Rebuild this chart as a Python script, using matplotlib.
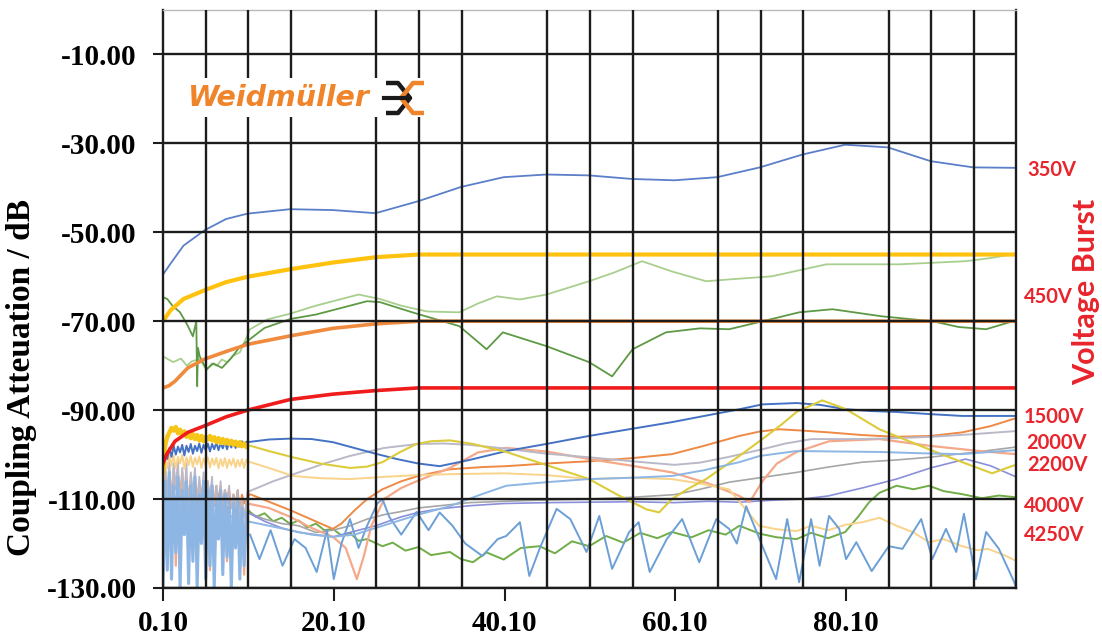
import numpy as np
import matplotlib
matplotlib.use("Agg")
import matplotlib.pyplot as plt
from matplotlib.patches import Rectangle

# ---- axis setup values ----
y_ticks = [-130, -110, -90, -70, -50, -30, -10]
x_ticks = [0.1, 20.1, 40.1, 60.1, 80.1]
x_ticklabels = ["0.10", "20.10", "40.10", "60.10", "80.10"]
x_grid = [0.1, 5.1, 10.1, 15.1, 20.1, 25.1, 30.1, 35.1, 40.1, 45.1, 50.1,
          55.1, 60.1, 65.1, 70.1, 75.1, 80.1, 85.1, 90.1, 95.1]

voltage_labels = ["350V", "450V", "1500V", "2000V", "2200V", "4000V", "4250V"]

# ---- upper (smooth) curves ----
blue350_x = [0.1, 1, 2.5, 5, 7.5, 10, 15, 20, 25, 30, 35, 40, 45, 50, 55, 60, 65, 70, 75, 80, 85, 90, 95, 100]
blue350_y = [-59.5, -57, -53, -49.5, -47, -45.8, -44.8, -45, -45.7, -43, -39.8, -37.6, -37, -37.2, -38,
             -38.3, -37.6, -35.4, -32.5, -30.3, -30.9, -34, -35.4, -35.5]

gold_x = [0.1, 1, 2.5, 5, 7.5, 10, 15, 20, 25, 30, 100]
gold_y = [-70, -67.5, -65, -63, -61.2, -60, -58.3, -56.8, -55.6, -55, -55]

orange_x = [0.1, 0.8, 1.5, 3, 5, 7.5, 10, 15, 20, 25, 30, 100]
orange_y = [-85, -84.5, -83.5, -80.5, -78.5, -76.8, -75.2, -73.3, -71.6, -70.6, -70, -70]

red_x = [0.1, 0.5, 1.5, 3, 5, 7.5, 10, 15, 20, 25, 30, 100]
red_y = [-102, -100, -97, -95, -93.5, -91.5, -90, -87.6, -86.4, -85.6, -85, -85]

lgreen_x = [0.1, 1.3, 2.2, 2.9, 3.5, 4.4, 5.2, 5.8, 6.4, 7.0, 7.6, 8.3, 9.1, 10.3, 12.3, 15, 18, 21, 23,
            25.5, 28, 31, 34.8, 37, 39.2, 41.9, 45, 50, 53, 56.2, 59.7, 63.7, 66.4, 71.4, 77.8, 86.3, 94.1, 97, 100]
lgreen_y = [-77.9, -79.2, -78.4, -80, -79, -78.5, -81, -79.5, -80, -78.6, -79.2, -77.8, -77, -71.8, -69.6,
            -68.3, -66.5, -65, -64, -65, -66.5, -67.8, -68, -66, -64.4, -65.1, -64, -61, -59, -56.5, -58.8,
            -61, -60.6, -59.9, -57.2, -57.2, -56.5, -55.8, -54.8]

dgreen_x = [0.1, 0.6, 1.2, 2.1, 3.0, 3.6, 4.0, 4.1, 4.2, 4.4, 5.2, 6, 7, 8, 9, 10.3, 12, 15, 18, 21, 24,
            25.5, 29.3, 34.8, 38, 39.9, 45, 50, 52.7, 55.1, 59, 63, 66.4, 69.9, 74.6, 78.5, 84.3, 90.2,
            93.3, 96.5, 100]
dgreen_y = [-64.6, -65, -66.5, -68, -71, -73.4, -70, -84.6, -76, -77.9, -80.8, -79.5, -80.5, -78.5, -76,
            -74, -71.5, -69.5, -68.5, -67, -65.5, -65.7, -68, -71.1, -76.3, -72.5, -75.6, -79.2, -82.4,
            -76.3, -72.5, -71.6, -71.8, -70.2, -68, -67.3, -68.9, -70, -71.3, -71.8, -69.8]

# ---- noisy start section (0.1 .. 10) shared x ----
noise_x = [0.1, 0.35, 0.6, 0.85, 1.1, 1.35, 1.6, 1.85, 2.1, 2.35, 2.6, 2.85, 3.1, 3.35, 3.6, 3.85,
           4.1, 4.35, 4.6, 4.85, 5.1, 5.35, 5.6, 5.85, 6.1, 6.35, 6.6, 6.85, 7.1, 7.35, 7.6, 7.85,
           8.1, 8.35, 8.6, 8.85, 9.1, 9.35, 9.6, 9.85]

lblue_noise = [-130, -106, -126, -104, -128, -107, -122, -105, -130, -108, -118, -106, -129, -107, -124,
               -105, -130, -109, -120, -106, -128, -108, -125, -107, -130, -110, -119, -108, -127, -109,
               -123, -110, -130, -111, -121, -110, -128, -112, -125, -113]
grayu_noise = [-118, -101, -112, -100, -122, -102, -108, -101, -120, -103, -110, -102, -124, -104, -109,
               -103, -119, -105, -112, -104, -125, -106, -110, -105, -121, -107, -113, -106, -118, -108,
               -111, -107, -126, -109, -112, -108, -120, -110, -114, -111]
salmon_noise = [-112, -104, -120, -105, -110, -103, -125, -106, -109, -104, -118, -106, -111, -105, -123,
                -107, -110, -106, -119, -107, -112, -106, -126, -108, -111, -107, -117, -108, -113, -108,
                -124, -109, -112, -109, -120, -110, -114, -110, -127, -111]
orange_noise = [-110, -105, -108, -104, -109, -105, -107, -104, -110, -106, -108, -105, -111, -106, -108,
                -106, -110, -107, -109, -106, -112, -107, -109, -107, -111, -108, -110, -107, -113, -108,
                -110, -108, -112, -109, -111, -108, -113, -109, -111, -110]
dblue_noise = [-104, -99, -101, -98.5, -100.5, -98, -100, -98.2, -99.5, -97.8, -100.2, -98, -99.4, -97.6,
               -99.8, -98, -99.2, -97.5, -99.6, -97.8, -99, -97.5, -99.3, -97.6, -98.8, -97.3, -99, -97.4,
               -98.6, -97.2, -98.8, -97.3, -98.4, -97.1, -98.5, -97.2, -98.2, -97, -98, -97.1]
yellow_noise = [-104, -98, -96, -95, -94, -94.6, -93.8, -95.2, -94.4, -95.6, -94.8, -96, -95.1, -96.3,
                -95.4, -96.5, -95.6, -96.8, -95.8, -97, -96, -96.6, -95.8, -96.8, -96.1, -97.2, -96.3,
                -97.4, -96.5, -97.5, -96.7, -97.6, -96.9, -97.8, -97.1, -98, -97.2, -98.1, -97.5, -98.2]
lyellow_noise = [-106, -101, -103, -100, -102.5, -100.2, -103, -100.5, -102, -100, -103.2, -100.6, -102.4,
                 -100.3, -102.8, -100.7, -102.2, -100.4, -103, -100.8, -102.5, -100.6, -102.9, -100.9,
                 -102.3, -100.7, -103.1, -101, -102.6, -100.8, -103, -101.1, -102.4, -100.9, -102.9,
                 -101.2, -102.6, -101, -103, -101.2]
green_noise = [-112, -108, -113, -109, -111, -107.5, -113.5, -109, -110.5, -108, -112.5, -109.5, -111,
               -108.5, -113, -110, -111.5, -109, -112, -110, -111, -109.5, -113, -110.5, -111.5, -110,
               -112.5, -111, -111.8, -110.5, -113, -111.2, -112, -111, -113.2, -111.5, -112.4, -111.3,
               -113.5, -112]

# ---- lower curves, tails after the noisy section ----
dblue_x = [10, 12.5, 15, 17.5, 20, 22.5, 25, 27.5, 30, 32.5, 36, 40.3, 45, 50, 55, 59.7, 63.5, 67.6,
           70.3, 74.3, 77, 80.1, 83, 86, 90, 93.7, 100]
dblue_y = [-97.2, -96.6, -96.4, -96.5, -97.2, -98.5, -99.8, -101, -102, -102.6, -101.2, -99.2, -97.6,
           -95.8, -94.2, -92.7, -91.3, -89.8, -88.7, -88.4, -88.8, -89.8, -90.2, -90.4, -90.9, -91.3, -91.3]

yellow_x = [10.3, 12.5, 15.3, 18.5, 22, 24, 25.8, 27.8, 29.8, 31.5, 33.7, 36.4, 40.3, 45.4, 50, 53.2,
            56.7, 58.2, 59.7, 61.5, 63.7, 67.6, 70.3, 72.5, 74.3, 77.3, 80.1, 84, 89.8, 93.7, 97.2, 99.5, 100]
yellow_y = [-98, -99.2, -100.6, -102, -103, -102.7, -101.7, -99.5, -97.6, -97, -96.8, -97.6, -99.4,
            -102.6, -105.5, -108.9, -112.3, -113, -110, -107.8, -105.5, -100.3, -96.5, -93.3, -90.4,
            -87.8, -89.8, -94.3, -98.8, -101.7, -104.2, -102.6, -102.3]

lyellow_x = [10, 12.5, 15.3, 18.5, 22, 26, 30, 33.7, 40, 45, 50, 55, 59.7, 63, 66.4, 68, 69.9, 72,
             74.3, 76, 78, 80, 82, 84, 86, 88, 89.8, 91.5, 93.7, 95.5, 96.7, 98.5, 100]
lyellow_y = [-101.5, -103, -104.8, -105.3, -105.5, -105, -104.6, -104.4, -104.2, -104.6, -105.5,
             -105.2, -105.5, -106.5, -107.8, -111.5, -116, -116.8, -117.2, -116, -117, -115.8, -115.2,
             -114.2, -116, -117.5, -119.7, -119, -120.6, -121.5, -121.2, -122.5, -123.9]

orange2_x = [10.3, 12.5, 15, 17.5, 20, 21, 22.5, 24, 25.8, 28, 30, 33.7, 37.5, 40.3, 45, 50, 55, 59.7,
             63.5, 67.6, 70, 72.3, 75, 78.1, 82, 86, 90, 93.7, 97, 100]
orange2_y = [-108.9, -110.6, -112.5, -114.6, -116.7, -115.5, -112.6, -110, -107.8, -106, -104.8,
             -103.3, -102.8, -102.6, -102, -101.5, -100.8, -99.9, -98, -95.8, -94.8, -94.3, -94.6, -95,
             -95.6, -96, -95.8, -95, -93.6, -91.8]

salmon_x = [10, 12.5, 15, 17.5, 20, 21.5, 22.8, 23.6, 24.5, 26, 28, 29.8, 33.7, 37, 40.3, 45, 50, 55,
            59.7, 64, 67.6, 68.8, 70.3, 72, 74.3, 78.1, 84, 89.8, 95.7, 100]
salmon_y = [-111, -112, -114, -116.5, -118.5, -121, -128, -123, -116, -110, -107.5, -106, -103,
            -99.5, -98.5, -99.3, -101, -102.5, -104, -106.5, -109.3, -110.7, -106, -102, -99.4, -97,
            -96.5, -98, -99.2, -99.9]

lblue_x = [10, 12.5, 15, 17.5, 20, 22.5, 25, 27.5, 30, 33.7, 37, 40.3, 45, 50, 55, 59.7, 63.5, 67.6,
           70, 74.3, 79, 84, 89, 93.7, 97, 100]
lblue_y = [-115, -116, -117, -118, -118.5, -118, -116.5, -115, -113.5, -111.6, -109.2, -107, -106.2,
           -105.5, -105.2, -104.8, -103.5, -101.7, -100.3, -99.2, -99.3, -99.4, -99.7, -99.9, -99.4, -99]

grayu_x = [10, 13, 16, 19, 22, 26, 30, 33, 36, 40, 45, 50, 55, 60, 63, 66.4, 70.3, 73, 76.1, 82, 86,
           90, 95, 100]
grayu_y = [-108.4, -106, -104, -102, -100.3, -98.5, -97.6, -97.5, -97.8, -98.6, -99.8, -100.6, -101.5,
           -102.3, -101.8, -100.5, -98.8, -97.5, -96.5, -96.5, -96.3, -96, -95.4, -94.7]

grayl_x = [0.1, 2, 4, 6, 8, 10, 12, 14, 16, 18, 20, 22, 24, 26, 28, 30, 32.5, 36, 40, 45, 50, 55, 60,
           63, 66.4, 70, 74.3, 78, 82, 86, 89.8, 95, 100]
grayl_y = [-112, -110, -113, -111, -114, -113, -114.5, -115.5, -116, -117.5, -117, -116, -114.5, -113.5,
           -112.8, -112, -111.5, -110.8, -110.5, -110.2, -110, -109.6, -109, -107.8, -106.2, -105.2,
           -104, -102.8, -101.7, -101.2, -100.6, -99.5, -98.3]

purple_x = [0.1, 2, 4, 6, 8, 10, 12, 14, 16, 18, 20, 22, 25, 28, 30, 32.5, 36, 40, 45, 50, 55, 60, 64,
            67.6, 72, 75, 78, 82, 86, 90, 94.1, 97, 100]
purple_y = [-108, -110, -109, -111, -112, -113, -115, -116.5, -117.5, -118, -118.5, -117.5, -116, -114,
            -113, -112.2, -111.5, -111, -110.8, -110.7, -110.6, -110.8, -110.5, -110.7, -110.2, -110,
            -109.3, -107.5, -105.5, -103, -101, -102.5, -105]

green_x = [10.3, 11, 12, 13, 14, 15, 16, 17, 18, 19, 20, 21, 22, 23, 24, 25.8, 27, 28.5, 30, 31.5, 33.7,
           35, 36.4, 38, 40, 42, 44.2, 46, 48, 50, 52, 54, 56, 58, 59.7, 62, 64, 66, 67.6, 70, 72, 74.3,
           76, 78, 80, 81.5, 82.8, 84, 86, 88, 89.8, 91.5, 93.7, 96, 98, 100]
green_y = [-112.9, -114, -113.2, -115, -114.2, -115.6, -114.8, -116.4, -115.5, -117, -116.7, -118.2,
           -117.6, -119.4, -119, -120.6, -119.8, -121.6, -120.8, -122.6, -121.9, -123.5, -124.2, -122,
           -123.6, -121, -120.6, -122.2, -119.5, -120.6, -118.3, -119.8, -117.6, -118.8, -117.4, -118.6,
           -117, -118, -116, -117.8, -118.6, -119, -117.6, -118.8, -117.4, -114, -110.7, -108.6, -107,
           -107.8, -107, -108.2, -108.9, -109.8, -109.2, -109.6]

wave_x = [10.3, 11.4, 12.7, 14.1, 15.5, 16.8, 18.1, 19.3, 20.1, 21, 22, 23, 24, 25.2, 25.8, 26.6, 28,
          29.8, 31.2, 32.5, 34, 35.5, 37.5, 39.3, 40.3, 41.9, 43, 44.2, 46.2, 47.8, 49.7, 51.2, 52.7,
          54.7, 55.8, 57.1, 59.1, 60.9, 62.9, 64.9, 66.4, 67.3, 68.4, 70.3, 71.9, 73.2, 74.6, 76, 77,
          78.1, 79.3, 80.1, 81.3, 83.1, 85.1, 86.7, 88.9, 90.2, 91.8, 93, 93.9, 95.3, 96.5, 98, 99.8, 100]
wave_y = [-118, -123.5, -117, -125, -119, -121, -126.4, -117, -128, -120, -114.5, -121, -116, -111,
          -110, -114, -118, -112.9, -117, -113, -116, -120, -122.8, -119, -118.3, -115.2, -127.3, -121.2,
          -112.2, -114.5, -121.9, -113.8, -125.7, -117.4, -115.2, -126.4, -119, -114.5, -124.2, -114.5,
          -116.7, -120, -111.6, -120.6, -128, -114.5, -128.7, -114.5, -125, -113.8, -116.7, -123.5,
          -119.7, -126.2, -120.6, -121.2, -114.5, -123.5, -116.7, -121.9, -113.3, -128, -117.4, -121.2,
          -128.7, -130]

fig = plt.figure(figsize=(11.02, 6.37), dpi=100)
ax = fig.add_axes([163 / 1102, 1 - 588 / 637, (1016 - 163) / 1102, (588 - 10) / 637])

def px_ax(px, py):
    return (px - 163) / 853, (588 - py) / 578

# lower lines (noisy ones first)
ax.plot(noise_x + green_x, green_noise + green_y, color="#70AD47", lw=1.4)
ax.plot(grayl_x, grayl_y, color="#A6A6A6", lw=1.2)
ax.plot(purple_x, purple_y, color="#8A8FDC", lw=1.2)
ax.plot(noise_x + orange2_x, orange_noise + orange2_y, color="#EE8A45", lw=1.4)
ax.plot(noise_x + salmon_x, salmon_noise + salmon_y, color="#F4A98A", lw=1.6)
ax.plot(noise_x + grayu_x, grayu_noise + grayu_y, color="#B9B9C8", lw=1.4)
ax.plot(noise_x + lyellow_x, lyellow_noise + lyellow_y, color="#F9D38A", lw=1.4)
ax.plot(noise_x + dblue_x, dblue_noise + dblue_y, color="#4472C4", lw=1.4)
ax.plot(noise_x, yellow_noise, color="#F5C518", lw=3.2)
ax.plot(yellow_x, yellow_y, color="#DCCB3A", lw=1.5)
ax.plot(wave_x, wave_y, color="#6B9FD6", lw=1.4)
ax.plot(noise_x[-1:] + lblue_x, lblue_noise[-1:] + lblue_y, color="#8DB6E4", lw=1.4)
ax.plot(noise_x, lblue_noise, color="#8DB6E4", lw=2.2)

# upper lines
ax.plot(blue350_x, blue350_y, color="#5B7FC8", lw=1.3)
ax.plot(lgreen_x, lgreen_y, color="#A9CF8E", lw=1.3)
ax.plot(dgreen_x, dgreen_y, color="#5E9A45", lw=1.3)
ax.plot(orange_x, orange_y, color="#F08A3C", lw=2.6)
ax.plot(gold_x, gold_y, color="#FFC20E", lw=3)
ax.plot(red_x, red_y, color="#F01B1B", lw=2.6)

ax.set_xlim(0.1, 100)
ax.set_ylim(-130, 0)
ax.set_yticks(y_ticks)
ax.set_yticklabels([f"{v:.2f}" for v in y_ticks])
ax.set_xticks(x_ticks)
ax.set_xticklabels(x_ticklabels)
ax.set_xticks(x_grid, minor=True)

ax.set_axisbelow(False)
ax.grid(True, which="minor", axis="x", color="#1c1c1c", lw=1.7)
ax.grid(True, which="major", axis="y", color="#1c1c1c", lw=1.7)
ax.tick_params(axis="x", which="minor", length=0)
ax.tick_params(axis="x", which="major", length=9, width=1.5, color="#1c1c1c", pad=7)
ax.tick_params(axis="y", length=7, width=1.5, color="#1c1c1c", pad=12)
for lab in ax.get_xticklabels() + ax.get_yticklabels():
    lab.set_fontfamily("Liberation Serif")
    lab.set_fontweight("bold")
    lab.set_fontsize(21)
for side in ["left", "right", "bottom"]:
    ax.spines[side].set_color("#1c1c1c")
    ax.spines[side].set_linewidth(1.7)
ax.spines["top"].set_color("#bbbbbb")
ax.spines["top"].set_linewidth(1)

fig.text(22 / 1102, 1 - 378 / 637, "Coupling Atteuation / dB", rotation=90, ha="center", va="center",
         fontfamily="Liberation Serif", fontweight="bold", fontsize=24)

# logo
x0, y0 = px_ax(183, 117)
x1, y1 = px_ax(425, 78)
ax.add_patch(Rectangle((x0, y0), x1 - x0, y1 - y0, transform=ax.transAxes, fc="white", ec="none", zorder=3))
tx, ty = px_ax(188, 98)
ax.text(tx, ty, "Weidmüller", transform=ax.transAxes, ha="left", va="center", color="#F0842A",
        fontsize=20.5, fontweight="bold", fontstyle="italic", fontfamily="DejaVu Sans", zorder=4)
black_pts = [(386, 83), (398, 83), (410, 98), (398, 113), (386, 113)]
orange_pts = [(424, 83), (413, 83), (401, 98), (413, 113), (424, 113)]
for pts, col in [(black_pts, "#1a1a1a"), (orange_pts, "#F0842A")]:
    xy = [px_ax(p, q) for p, q in pts]
    ax.plot([a for a, b in xy], [b for a, b in xy], transform=ax.transAxes, color=col, lw=3.2,
            solid_capstyle="butt", zorder=4, clip_on=False)
xa, ya = px_ax(384, 98)
xb, yb = px_ax(407, 98)
ax.plot([xa, xb], [ya, yb], transform=ax.transAxes, color="#1a1a1a", lw=3, zorder=4)

# voltage labels on the right
label_pos = [(1027, 170), (1024, 297), (1024, 417), (1026, 443), (1027, 465), (1024, 506), (1024, 535)]
for txt, (px, py) in zip(voltage_labels, label_pos):
    fig.text(px / 1102, 1 - py / 637, txt, ha="left", va="center", color="#E8242C",
             fontsize=14.5, fontweight="bold", fontfamily="Lato")
fig.text(1086 / 1102, 1 - 292 / 637, "Voltage Burst", rotation=90, ha="center", va="center",
         color="#E8242C", fontsize=22, fontweight="bold", fontfamily="Lato")

fig.savefig("out.png", dpi=100)
